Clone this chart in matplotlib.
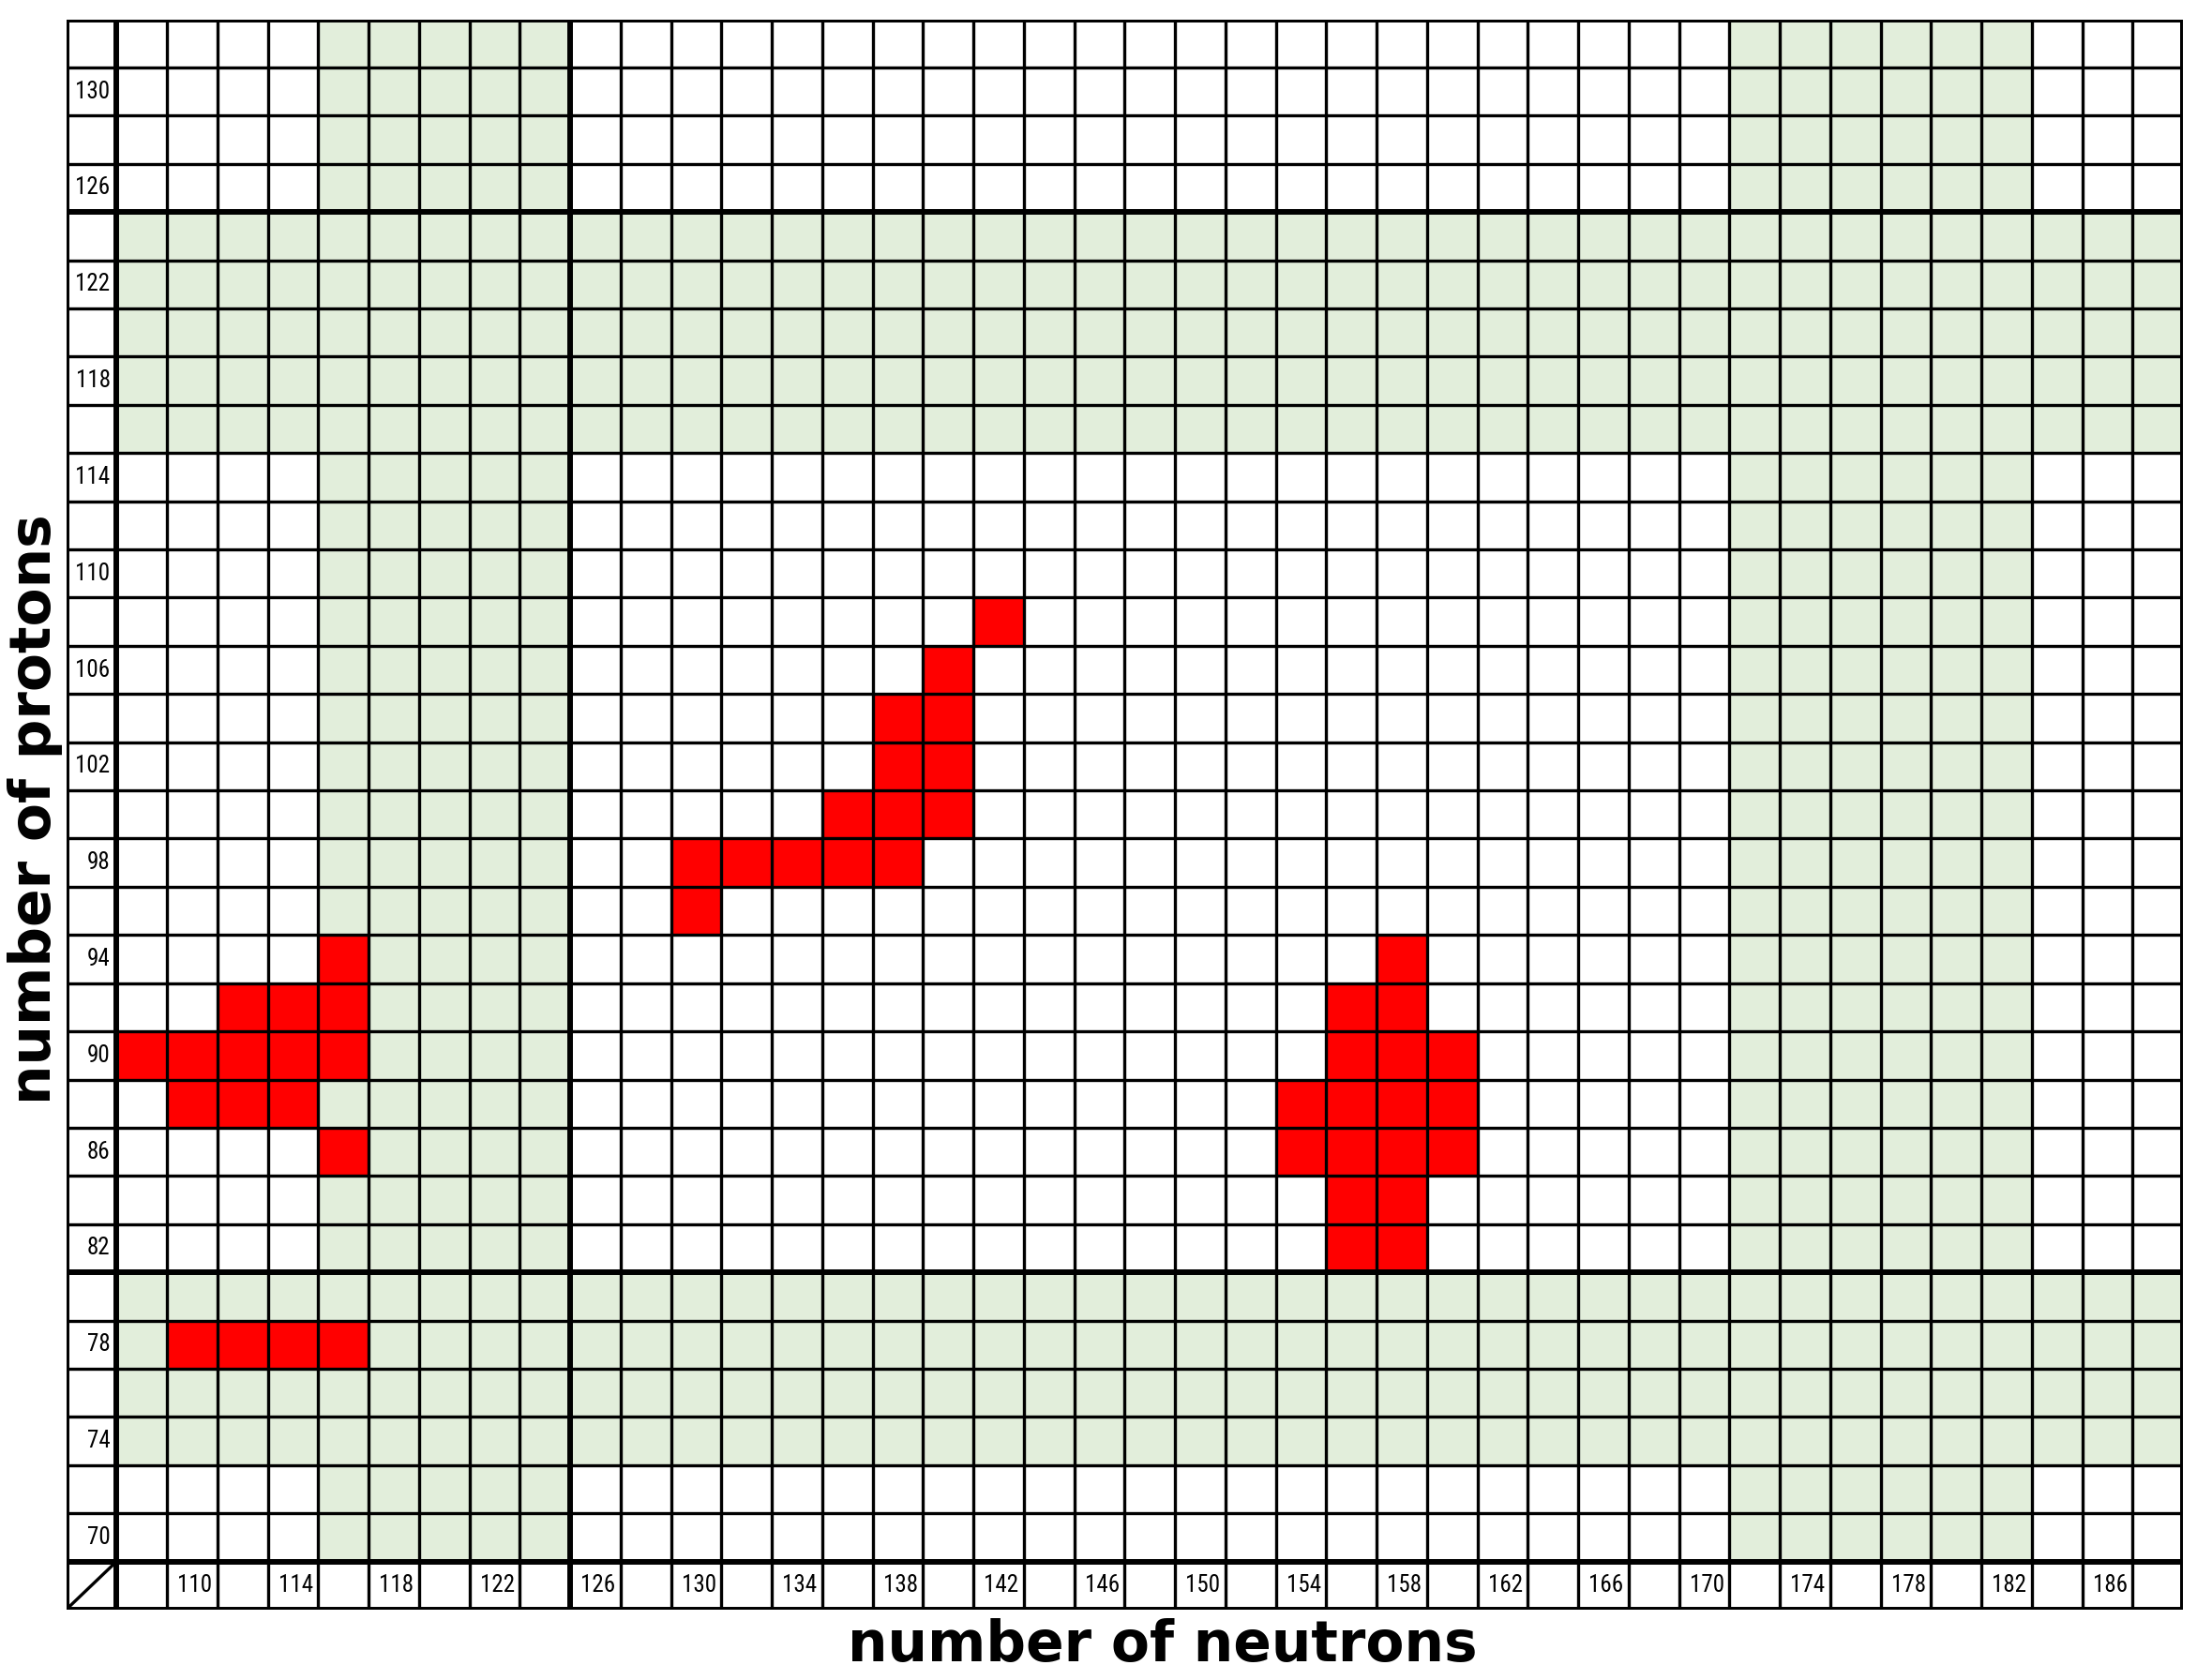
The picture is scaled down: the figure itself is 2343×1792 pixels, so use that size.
import numpy as np
import matplotlib
matplotlib.use("Agg")
import matplotlib.pyplot as plt
from matplotlib.colors import ListedColormap

# chart data
neutrons = list(range(108, 189, 2))
protons = list(range(70, 133, 2))

n_ticks = list(range(110, 187, 4))
z_ticks = list(range(70, 131, 4))

# shaded bands (neutron columns / proton rows)
shell_n = [116, 118, 120, 122, 124, 172, 174, 176, 178, 180, 182]
shell_z = [116, 118, 120, 122, 124, 74, 76, 78, 80]

# magic numbers drawn as heavy lines
magic_n = [126]
magic_z = [126, 82]

# highlighted nuclei (neutron, proton)
red_n = [142, 140, 138, 140, 138, 140, 136, 138, 140,
         130, 132, 134, 136, 138, 130,
         116, 158,
         112, 114, 116, 156, 158,
         108, 110, 112, 114, 116, 156, 158, 160,
         110, 112, 114, 154, 156, 158, 160,
         116, 154, 156, 158, 160,
         156, 158,
         156, 158,
         110, 112, 114, 116]
red_z = [108, 106, 104, 104, 102, 102, 100, 100, 100,
         98, 98, 98, 98, 98, 96,
         94, 94,
         92, 92, 92, 92, 92,
         90, 90, 90, 90, 90, 90, 90, 90,
         88, 88, 88, 88, 88, 88, 88,
         86, 86, 86, 86, 86,
         84, 84,
         82, 82,
         78, 78, 78, 78]

GREEN = "#e2eedb"
RED = "#ff0000"
thin = 2.4
thick = 4.3

fig = plt.figure(figsize=(23.43, 17.92), dpi=100)
ax = fig.add_axes([0.03009, 0.04185, 0.96351, 0.94671])
ax.set_xlim(105, 189)
ax.set_ylim(67, 133)
ax.axis("off")

# cell states: 0 white, 1 green, 2 red
grid = np.zeros((len(protons), len(neutrons)))
for i, z in enumerate(protons):
    for j, n in enumerate(neutrons):
        if n in shell_n or z in shell_z:
            grid[i, j] = 1
for n, z in zip(red_n, red_z):
    grid[protons.index(z), neutrons.index(n)] = 2

x_edges = np.arange(neutrons[0] - 1, neutrons[-1] + 2, 2)
y_edges = np.arange(protons[0] - 1, protons[-1] + 2, 2)
ax.pcolormesh(x_edges, y_edges, grid, cmap=ListedColormap(["white", GREEN, RED]),
              vmin=0, vmax=2, zorder=1)

# thin grid lines
ax.vlines(np.arange(107, 189, 2), 67, 133, color="black", lw=thin, zorder=2)
ax.hlines(np.arange(69, 133, 2), 105, 189, color="black", lw=thin, zorder=2)

# heavy lines: frame, header separators, magic numbers
for x in [105, 107, 189] + [m - 1 for m in magic_n]:
    ax.vlines(x, 67, 133, color="black", lw=thick, zorder=3)
for y in [67, 69, 133] + [m - 1 for m in magic_z]:
    ax.hlines(y, 105, 189, color="black", lw=thick, zorder=3)

# corner diagonal
ax.plot([105, 107], [67, 69], color="black", lw=thin, zorder=3)

tick_font = ["Liberation Sans Narrow", "DejaVu Sans Condensed", "Roboto Condensed",
             "Liberation Sans"]
for n in n_ticks:
    ax.text(n + 0.1, 68, str(n), ha="center", va="center", fontsize=18,
            family=tick_font, fontstretch="condensed", zorder=4)
for z in z_ticks:
    ax.text(106.75, z, str(z), ha="right", va="center", fontsize=18,
            family=tick_font, fontstretch="condensed", zorder=4)

fig.text(0.5292, 0.0112, "number of neutrons", ha="center", va="baseline",
         fontsize=43, fontweight="bold", family="DejaVu Sans")
fig.text(0.0162, 0.5184, "number of protons", ha="center", va="center", rotation=90,
         fontsize=43, fontweight="bold", family="DejaVu Sans")

fig.savefig("out.png", dpi=100, facecolor="white")
